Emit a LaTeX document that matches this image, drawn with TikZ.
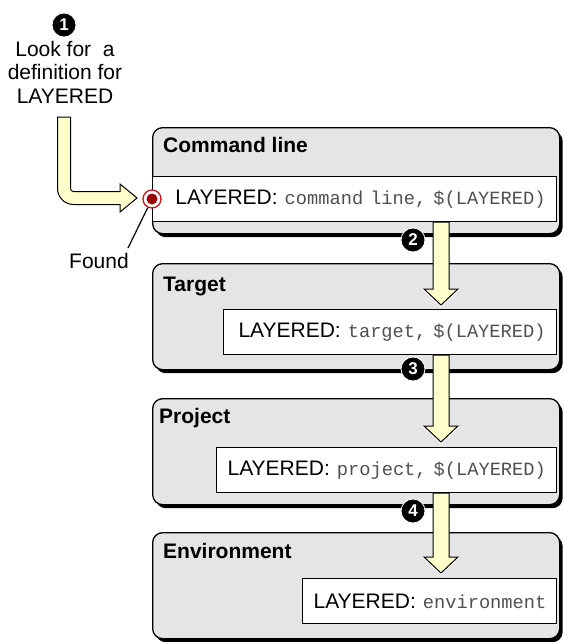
\documentclass[tikz,border=0pt]{standalone}
\usepackage{fontspec}
\setmainfont{Liberation Sans}
\newfontfamily\monof{Liberation Mono}
\usetikzlibrary{shadows,calc}
\definecolor{panelgray}{HTML}{E5E5E5}
\definecolor{paleyellow}{HTML}{FFFFCC}
\definecolor{ringred}{HTML}{CC1111}
\definecolor{dotred}{HTML}{990000}
\definecolor{monogray}{HTML}{505050}
\newcommand\mtxt[1]{{\monof\fontsize{18.7}{20}\selectfont\color{monogray}#1}}
\newcommand\vblockarrow[2]{%
  \draw[line width=3pt, white, line join=miter] ($(#2)+(-17,-16)$) -- (#2) -- ($(#2)+(17,-16)$);
  \draw[blockarrow] ($(#1)+(-8,0)$) -- ($(#2)+(-8,-16)$) -- ($(#2)+(-17,-16)$) -- (#2)
     -- ($(#2)+(17,-16)$) -- ($(#2)+(8,-16)$) -- ($(#1)+(8,0)$) -- cycle;}
\tikzset{
  panel/.style={draw=black, line width=1.3pt, fill=panelgray, rounded corners=10pt,
    anchor=north west, minimum width=407pt, minimum height=106pt, inner sep=0pt,
    drop shadow={shadow xshift=3pt, shadow yshift=-3.5pt, fill=black, opacity=1}},
  hdr/.style={anchor=base west, inner sep=0pt, font=\bfseries\fontsize{21}{24}\selectfont},
  valbox/.style={draw=black, line width=1.2pt, fill=white, anchor=north west,
    minimum height=45pt, inner xsep=11pt, inner ysep=0pt, align=right,
    font=\fontsize{21}{24}\selectfont},
  numdot/.style={circle, fill=black, draw=white, line width=0.8pt, minimum size=24pt,
    inner sep=0pt, text=white, font=\bfseries\fontsize{17}{17}\selectfont},
  blockarrow/.style={draw=black, line width=1pt, fill=paleyellow, line join=miter},
  plain/.style={font=\fontsize{21}{23.5}\selectfont, inner sep=0pt}
}
\begin{document}
\begin{tikzpicture}[x=1pt, y=-1pt]
\useasboundingbox (0,0) rectangle (564,642);

% panels
\node[panel] (p1) at (152,127) {};
\node[panel] (p2) at (152,263) {};
\node[panel] (p3) at (152,398) {};
\node[panel] (p4) at (152,532) {};

% headers
\node[hdr] (h1) at (163,152) {Command line};
\node[hdr] (h2) at (163,291) {Target};
\node[hdr] (h3) at (159,423) {Project};
\node[hdr] (h4) at (163,558) {Environment};

% value boxes
\node[valbox, text width=382pt] (b1) at (152,176) {\mbox{LAYERED: \mtxt{command line, \$(LAYERED)}}};
\node[valbox, text width=311pt] (b2) at (223,309) {\mbox{LAYERED: \mtxt{target, \$(LAYERED)}}};
\node[valbox, text width=318pt] (b3) at (216,447) {\mbox{LAYERED: \mtxt{project, \$(LAYERED)}}};
\node[valbox, text width=232pt] (b4) at (302,578) {\mbox{LAYERED: \mtxt{environment}}};

% vertical arrows
\coordinate (t2) at (441,305);
\coordinate (t3) at (441,442);
\coordinate (t4) at (441,573);
\coordinate (s2) at (b1.south -| t2);
\coordinate (s3) at (b2.south -| t3);
\coordinate (s4) at (b3.south -| t4);
\vblockarrow{s2}{t2}
\vblockarrow{s3}{t3}
\vblockarrow{s4}{t4}

% step numbers
\node[numdot] (n1) at (64,25) {1};
\node[numdot] (n2) at (413,240) {2};
\node[numdot] (n3) at (413,369) {3};
\node[numdot] (n4) at (413,511) {4};

% top-left text
\node[plain, anchor=north, align=center] (look) at (65,41) {Look for~ a\\definition for\\LAYERED};

% found marker
\node[circle, draw=ringred, line width=1.3pt, fill=white, minimum size=18pt, inner sep=0pt] (found) at (152,199) {};
\node[circle, fill=dotred, minimum size=11pt, inner sep=0pt] (founddot) at (found.center) {};

% L-shaped arrow into the marker
\draw[blockarrow] (57.5,117) -- (57.5,188.5) .. controls (57.5,197.3) and (64.7,204.5) .. (73.5,204.5)
  -- (120,204.5) -- (120,212) -- (137,198) -- (120,184) -- (120,191.5) -- (73.5,191.5)
  .. controls (71.8,191.5) and (70.5,190.2) .. (70.5,188.5) -- (70.5,117) -- cycle;

% found label
\node[plain, anchor=base] (foundlbl) at (99,268) {Found};
\coordinate (fl) at (128,248);
\draw[line width=1.2pt] (found) -- (fl);
\end{tikzpicture}
\end{document}
